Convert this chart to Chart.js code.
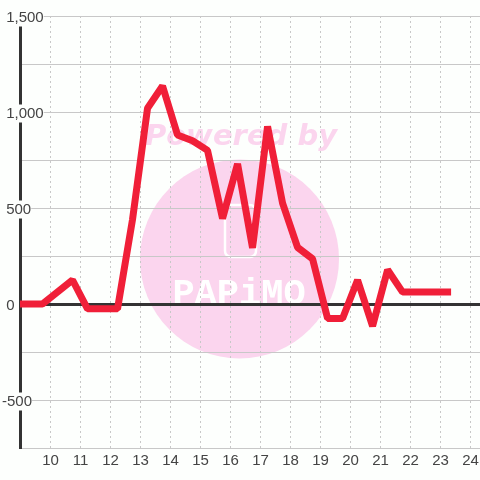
<!DOCTYPE html>
<html>
<head>
<meta charset="utf-8">
<script src="https://cdn.jsdelivr.net/npm/chart.js@4"></script>
<style>
  body { margin: 0; background: #fdfffd; }
</style>
</head>
<body>
<canvas id="myChart" width="480" height="480"></canvas>
<script>
const hours = [8.75, 9.75, 10.75, 11.25, 12.25, 12.75, 13.25, 13.75, 14.25, 14.75, 15.25, 15.75, 16.25, 16.75, 17.25, 17.75, 18.25, 18.75, 19.25, 19.75, 20.25, 20.75, 21.25, 21.75, 23.25];
const values = [0, 0, 125, -25, -25, 440, 1020, 1135, 880, 850, 800, 445, 730, 292, 925, 525, 295, 235, -75, -75, 125, -115, 178, 62, 62];
const watermarkTop = 'Powered by';
const watermarkBottom = 'PAPiMO';

const gridColor = '#c8c8c8';
const axisColor = '#333333';
const textColor = '#444444';
const fontFamily = '"Liberation Sans", Arial, sans-serif';

// pink logo sits under the grid
const watermark = {
    id: 'watermark',
    beforeDraw(chart) {
        const c = chart.ctx;
        c.save();
        c.fillStyle = '#fdfffd';
        c.fillRect(0, 0, 480, 480);
        c.fillStyle = '#fbd5ee';
        c.beginPath();
        c.arc(239.5, 259, 99.5, 0, Math.PI * 2);
        c.fill();
        c.font = 'italic bold 29px "DejaVu Sans"';
        c.textAlign = 'center';
        c.textBaseline = 'alphabetic';
        c.fillText(watermarkTop, 241, 145);
        c.fillStyle = '#ffffff';
        c.font = 'bold 37px "Liberation Mono"';
        c.fillText(watermarkBottom, 239, 304);
        c.strokeStyle = '#ffffff';
        c.lineWidth = 2.5;
        c.beginPath();
        c.roundRect(225, 205, 31, 52, 6);
        c.stroke();
        c.restore();
    }
};

const myChart = new Chart(document.getElementById('myChart'), {
    type: 'line',
    data: {
        datasets: [{
            data: hours.map((h, i) => ({ x: h, y: values[i] })),
            borderColor: '#f01f38',
            borderWidth: 7,
            borderCapStyle: 'square',
            borderJoinStyle: 'bevel',
            pointRadius: 0,
            tension: 0
        }]
    },
    options: {
        responsive: false,
        animation: false,
        layout: { padding: { top: 16 } },
        plugins: { legend: { display: false }, tooltip: { enabled: false } },
        scales: {
            x: {
                type: 'linear',
                min: 9,
                max: 24.33,
                afterFit(scale) {
                    scale.height = 32;
                    scale.paddingLeft = 0;
                    scale.paddingRight = 0;
                },
                border: { display: false, dash: [2, 3] },
                grid: {
                    color: gridColor,
                    lineWidth: 1,
                    drawTicks: false
                },
                ticks: {
                    stepSize: 1,
                    includeBounds: false,
                    autoSkip: false,
                    maxRotation: 0,
                    padding: 4,
                    labelOffset: 0.5,
                    color: textColor,
                    font: { family: fontFamily, size: 15 },
                    callback: v => (v === 9 ? '' : String(v))
                }
            },
            y: {
                min: -750,
                max: 1500,
                afterFit(scale) { scale.width = 20; },
                border: { display: true, color: axisColor, width: 3 },
                grid: {
                    color: ctx => (ctx.tick && ctx.tick.value === 0 ? axisColor : gridColor),
                    lineWidth: ctx => (ctx.tick && ctx.tick.value === 0 ? 3 : 1),
                    drawTicks: false
                },
                ticks: {
                    stepSize: 250,
                    autoSkip: false,
                    mirror: true,
                    padding: -18,
                    labelOffset: 1.5,
                    color: textColor,
                    font: { family: fontFamily, size: 15 },
                    showLabelBackdrop: ctx => ctx.tick.value % 500 === 0,
                    backdropColor: '#fdfffd',
                    backdropPadding: 0,
                    callback: v => {
                        if (v % 500 !== 0) return '';
                        return v < 0 ? v.toLocaleString('en-US') : ' ' + v.toLocaleString('en-US');
                    }
                }
            }
        }
    },
    plugins: [watermark]
});
</script>
</body>
</html>
